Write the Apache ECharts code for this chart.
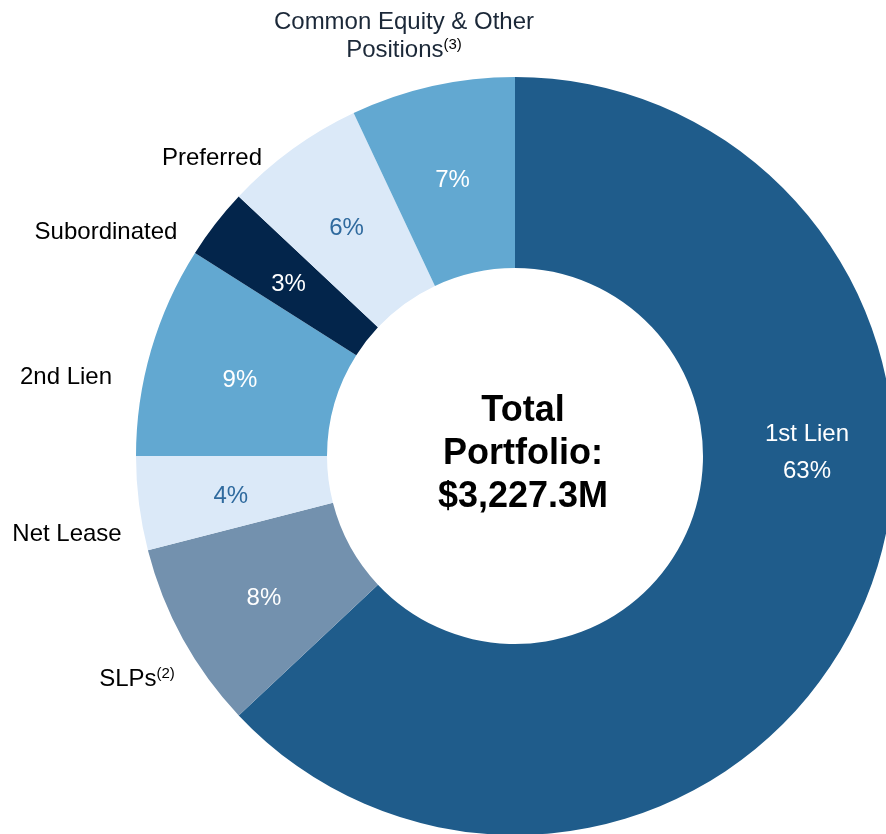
<!DOCTYPE html>
<html>
<head>
<meta charset="utf-8">
<script src="https://cdn.jsdelivr.net/npm/echarts@6/dist/echarts.min.js"></script>
<style>
  html, body { margin: 0; padding: 0; background: #fff; }
  #chart { width: 886px; height: 834px; }
</style>
</head>
<body>
<div id="chart"></div>
<script>
// slices, clockwise from 12 o'clock
const names = ['1st Lien', 'SLPs', 'Net Lease', '2nd Lien', 'Subordinated', 'Preferred', 'Common Equity & Other Positions'];
const values = [63, 8, 4, 9, 3, 6, 7];
const sliceColors = ['#1f5c8b', '#7391ae', '#dbe9f8', '#62a8d1', '#03254b', '#dbe9f8', '#62a8d1'];
const pctColors = ['#fff', '#fff', '#2f6a9e', '#fff', '#fff', '#2f6a9e', '#fff'];
const centerLines = ['Total', 'Portfolio:', '$3,227.3M'];

// where the outside category names sit (label centres)
const outerPos = [null, [137, 679], [67, 534], [66, 377], [106, 232], [212, 158], [404, 36]];
const outerText = [
  '',
  'SLPs{sup|(2)}',
  'Net Lease',
  '2nd Lien',
  'Subordinated',
  'Preferred',
  '{dark|Common Equity & Other}\n{dark|Positions}{sup|(3)}'
];

const chart = echarts.init(document.getElementById('chart'));
const font = 'Liberation Sans, Arial, sans-serif';

const sliceData = names.map((n, i) => ({
  name: n,
  value: values[i],
  itemStyle: { color: sliceColors[i] },
  label: { color: pctColors[i] }
}));

chart.setOption({
  animation: false,
  series: [
    {
      type: 'pie',
      center: [515, 456],
      radius: [188, 379],
      startAngle: 90,
      clockwise: true,
      silent: true,
      data: sliceData,
      label: {
        show: true,
        position: 'inside',
        fontFamily: font,
        fontSize: 24,
        lineHeight: 37,
        offset: [0, 4],
        formatter: p => (p.dataIndex === 0 ? p.name + '\n' : '') + p.value + '%'
      },
      labelLine: { show: false },
      labelLayout: p => (p.dataIndex === 0 ? { x: 807, y: 453, align: 'center', verticalAlign: 'middle' } : {})
    },
    {
      type: 'pie',
      center: [515, 456],
      radius: [188, 379],
      startAngle: 90,
      clockwise: true,
      silent: true,
      data: names.map((n, i) => ({ name: n, value: values[i] })),
      itemStyle: { color: 'rgba(0,0,0,0)' },
      label: {
        show: true,
        position: 'outside',
        overflow: 'none',
        fontFamily: font,
        fontSize: 24,
        color: '#000',
        lineHeight: 28,
        formatter: p => outerText[p.dataIndex],
        rich: {
          sup: { fontFamily: font, fontSize: 15, color: '#000', padding: [0, 0, 10, 0] },
          dark: { fontFamily: font, fontSize: 24, color: '#1b2838', lineHeight: 28 }
        }
      },
      labelLine: { show: false },
      labelLayout: p => {
        const pos = outerPos[p.dataIndex];
        if (!pos) return {};
        return { x: pos[0], y: pos[1], align: 'center', verticalAlign: 'middle', hideOverlap: false };
      }
    }
  ],
  graphic: [
    {
      type: 'text',
      x: 523,
      y: 454,
      style: {
        text: centerLines.join('\n'),
        fill: '#000',
        font: 'bold 36px ' + font,
        lineHeight: 43,
        align: 'center',
        verticalAlign: 'middle'
      }
    }
  ]
});
</script>
</body>
</html>
